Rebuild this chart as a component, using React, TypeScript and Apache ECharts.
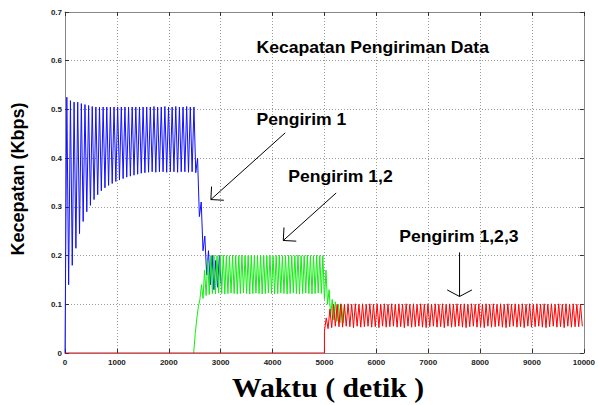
import { useEffect, useRef } from "react";
import * as echarts from "echarts";

// ---- axes ----
const timeMin = 0;
const timeMax = 10000;
const timeInterval = 1000;
const speedMin = 0;
const speedMax = 0.7;
const speedInterval = 0.1;

// ---- Pengirim 1 (blue) : sampled every 35 s from t = 0 ----
const blueStart = 0;
const blueStep = 35;
const blueSpeed = [
  0, 0.525, 0.14, 0.518, 0.18, 0.515, 0.215, 0.515, 0.245, 0.512,
  0.27, 0.51, 0.29, 0.508, 0.303, 0.506, 0.315, 0.505, 0.325, 0.505,
  0.333, 0.505, 0.339, 0.505, 0.344, 0.505, 0.348, 0.505, 0.352, 0.505,
  0.355, 0.505, 0.358, 0.505, 0.361, 0.505, 0.363, 0.505, 0.365, 0.505,
  0.367, 0.505, 0.369, 0.505, 0.37, 0.505, 0.371, 0.505, 0.372, 0.506,
  0.371, 0.505, 0.372, 0.505, 0.372, 0.506, 0.371, 0.505, 0.372, 0.505,
  0.372, 0.506, 0.371, 0.505, 0.372, 0.505, 0.372, 0.506, 0.371, 0.505,
  0.372, 0.505, 0.37, 0.4, 0.28, 0.31, 0.21, 0.24, 0.16, 0.21,
  0.14, 0.2, 0.13, 0.19, 0.135, 0.2, 0.14,
];

// ---- Pengirim 2 (green) : sampled every 30 s from t = 2480 ----
const greenStart = 2480;
const greenStep = 30;
const greenSpeed = [
  0, 0.04, 0.07, 0.095, 0.11, 0.14, 0.112, 0.17, 0.118, 0.19,
  0.12, 0.2, 0.122, 0.201, 0.121, 0.2, 0.123, 0.2, 0.122, 0.201,
  0.121, 0.2, 0.122, 0.2, 0.123, 0.201, 0.122, 0.2, 0.121, 0.2,
  0.122, 0.201, 0.123, 0.2, 0.122, 0.2, 0.121, 0.201, 0.122, 0.2,
  0.123, 0.2, 0.122, 0.201, 0.121, 0.2, 0.122, 0.2, 0.123, 0.201,
  0.122, 0.2, 0.121, 0.2, 0.122, 0.201, 0.123, 0.2, 0.122, 0.2,
  0.121, 0.201, 0.122, 0.2, 0.123, 0.2, 0.122, 0.201, 0.121, 0.2,
  0.122, 0.2, 0.123, 0.201, 0.122, 0.2, 0.121, 0.2, 0.122, 0.201,
  0.123, 0.2, 0.122, 0.2, 0.11, 0.17, 0.1, 0.13, 0.075, 0.11,
  0.068, 0.105, 0.065, 0.1, 0.062, 0.1, 0.062, 0.098,
];

// ---- Pengirim 3 (red) : idle, then sampled every 35 s from t = 5000 ----
const redIdleTime = [0, 5000];
const redIdleSpeed = [0, 0];
const redStart = 5000;
const redStep = 35;
const redSpeed = [
  0.045, 0.072, 0.05, 0.09, 0.052, 0.1, 0.055, 0.1, 0.054, 0.101,
  0.053, 0.1, 0.055, 0.101, 0.054, 0.1, 0.052, 0.101, 0.055, 0.1,
  0.053, 0.101, 0.054, 0.1, 0.055, 0.101, 0.053, 0.1, 0.054, 0.101,
  0.052, 0.1, 0.055, 0.101, 0.053, 0.1, 0.054, 0.101, 0.055, 0.1,
  0.053, 0.101, 0.054, 0.1, 0.052, 0.101, 0.055, 0.1, 0.053, 0.101,
  0.054, 0.1, 0.055, 0.101, 0.053, 0.1, 0.052, 0.101, 0.054, 0.1,
  0.055, 0.101, 0.053, 0.1, 0.054, 0.101, 0.052, 0.1, 0.055, 0.101,
  0.053, 0.1, 0.054, 0.101, 0.055, 0.1, 0.053, 0.101, 0.052, 0.1,
  0.054, 0.101, 0.055, 0.1, 0.053, 0.101, 0.054, 0.1, 0.052, 0.101,
  0.055, 0.1, 0.053, 0.101, 0.054, 0.1, 0.055, 0.101, 0.053, 0.1,
  0.052, 0.101, 0.054, 0.1, 0.055, 0.101, 0.053, 0.1, 0.054, 0.101,
  0.052, 0.1, 0.055, 0.101, 0.053, 0.1, 0.054, 0.101, 0.055, 0.1,
  0.053, 0.101, 0.052, 0.1, 0.054, 0.101, 0.055, 0.1, 0.053, 0.101,
  0.054, 0.1, 0.052, 0.101, 0.055, 0.1, 0.053, 0.101, 0.054, 0.1,
  0.054, 0.1, 0.055,
];

// ---- texts & annotations (data coordinates) ----
const titleText = "Kecapatan Pengiriman Data";
const yAxisTitle = "Kecepatan (Kbps)";
const xAxisTitle = "Waktu ( detik )";
const noteLabels = ["Pengirim 1", "Pengirim 1,2", "Pengirim 1,2,3"];
const noteLabelTime = [3690, 4302, 6444];
const noteLabelSpeed = [0.479, 0.362, 0.239];
const titleTime = 3690;
const titleSpeed = 0.627;
const arrowTailTime = [4245, 5226, 7604];
const arrowTailSpeed = [0.452, 0.3285, 0.2065];
const arrowTipTime = [2811, 4207, 7604];
const arrowTipSpeed = [0.315, 0.231, 0.116];
const arrowHeadAngleDeg = [45, 45, 62];
const arrowHeadLen = [13, 13, 14];

const sampled = (start: number, step: number, vals: number[]) =>
  vals.map((v, i) => [start + i * step, v]);

export default function App() {
  const ref = useRef<HTMLDivElement>(null);
  useEffect(() => {
    if (!ref.current) return;
    const chart = echarts.init(ref.current, null, { renderer: "svg" });
    const labelFont = "Arial, 'Liberation Sans', sans-serif";
    const commonX = {
      type: "value" as const,
      min: timeMin,
      max: timeMax,
      interval: timeInterval,
    };
    const commonY = {
      type: "value" as const,
      min: speedMin,
      max: speedMax,
      interval: speedInterval,
    };
    const boxLine = { show: true, onZero: false, lineStyle: { color: "#888", width: 1 } };
    const tick = { show: true, inside: true, length: 4, lineStyle: { color: "#333" } };
    const grid = { show: true, lineStyle: { color: "#9a9a9a", type: [1, 2], width: 1 } };
    chart.setOption({
      animation: false,
      backgroundColor: "#ffffff",
      grid: { left: 65, right: 10, top: 12, bottom: 52 },
      xAxis: [
        {
          ...commonX,
          position: "bottom",
          axisLine: boxLine,
          axisTick: tick,
          axisLabel: {
            show: true,
            fontSize: 8,
            fontWeight: "bold",
            color: "#222",
            fontFamily: labelFont,
            margin: 5,
            formatter: (v: number) => String(v),
          },
          splitLine: grid,
        },
        {
          ...commonX,
          position: "top",
          axisLine: boxLine,
          axisTick: tick,
          axisLabel: { show: false },
          splitLine: { show: false },
        },
      ],
      yAxis: [
        {
          ...commonY,
          position: "left",
          axisLine: boxLine,
          axisTick: tick,
          axisLabel: {
            show: true,
            fontSize: 8,
            fontWeight: "bold",
            color: "#222",
            fontFamily: labelFont,
            margin: 3,
            formatter: (v: number) => (v === 0 ? "0" : v.toFixed(1)),
          },
          splitLine: grid,
        },
        {
          ...commonY,
          position: "right",
          axisLine: boxLine,
          axisTick: tick,
          axisLabel: { show: false },
          splitLine: { show: false },
        },
      ],
      series: [
        {
          name: "Pengirim 1",
          type: "line",
          xAxisIndex: 0,
          yAxisIndex: 0,
          data: sampled(blueStart, blueStep, blueSpeed),
          showSymbol: false,
          silent: true,
          lineStyle: { color: "#1010ff", width: 1 },
        },
        {
          name: "Pengirim 2",
          type: "line",
          xAxisIndex: 0,
          yAxisIndex: 0,
          data: sampled(greenStart, greenStep, greenSpeed),
          showSymbol: false,
          silent: true,
          lineStyle: { color: "#11ee11", width: 1 },
        },
        {
          name: "Pengirim 3",
          type: "line",
          xAxisIndex: 0,
          yAxisIndex: 0,
          data: [
            ...redIdleTime.map((t, i) => [t, redIdleSpeed[i]]),
            ...sampled(redStart, redStep, redSpeed),
          ],
          showSymbol: false,
          silent: true,
          lineStyle: { color: "#ff0000", width: 1 },
        },
      ],
    });

    const px = (t: number, s: number) =>
      chart.convertToPixel({ xAxisIndex: 0, yAxisIndex: 0 }, [t, s]) as number[];

    const textStyle = (text: string, size: number, family: string) => ({
      text,
      fontSize: size,
      fontWeight: "bold",
      fontFamily: family,
      fill: "#000",
      align: "left",
      textAlign: "left",
      verticalAlign: "middle",
      textVerticalAlign: "middle",
    });

    const elements: any[] = [];
    const tp = px(titleTime, titleSpeed);
    elements.push({
      type: "text",
      x: tp[0],
      y: tp[1],
      scaleX: 1.1,
      style: textStyle(titleText, 16, labelFont),
    });
    noteLabels.forEach((lbl, i) => {
      const p = px(noteLabelTime[i], noteLabelSpeed[i]);
      elements.push({
        type: "text",
        x: p[0],
        y: p[1],
        scaleX: 1.1,
        style: textStyle(lbl, 16, labelFont),
      });
    });
    arrowTipTime.forEach((_, i) => {
      const tail = px(arrowTailTime[i], arrowTailSpeed[i]);
      const tip = px(arrowTipTime[i], arrowTipSpeed[i]);
      const dx = tail[0] - tip[0];
      const dy = tail[1] - tip[1];
      const len = Math.hypot(dx, dy) || 1;
      const ux = dx / len;
      const uy = dy / len;
      const a = (arrowHeadAngleDeg[i] * Math.PI) / 180;
      const L = arrowHeadLen[i];
      const rot = (ang: number) => [
        tip[0] + L * (ux * Math.cos(ang) - uy * Math.sin(ang)),
        tip[1] + L * (ux * Math.sin(ang) + uy * Math.cos(ang)),
      ];
      elements.push({
        type: "polyline",
        shape: { points: [tail, tip] },
        style: { stroke: "#000", lineWidth: 1, fill: null },
      });
      elements.push({
        type: "polyline",
        shape: { points: [rot(a), tip, rot(-a)] },
        style: { stroke: "#000", lineWidth: 1, fill: null },
      });
    });
    elements.push({
      type: "text",
      x: 18,
      y: 179,
      rotation: Math.PI / 2,
      style: {
        ...textStyle(yAxisTitle, 18, labelFont),
        align: "center",
        textAlign: "center",
      },
    });
    elements.push({
      type: "text",
      x: 328,
      y: 388,
      scaleX: 1.1,
      style: {
        ...textStyle(xAxisTitle, 27, "'Times New Roman', 'Liberation Serif', serif"),
        align: "center",
        textAlign: "center",
      },
    });
    chart.setOption({ graphic: { elements } });

    return () => chart.dispose();
  }, []);

  return (
    <div
      ref={ref}
      style={{ position: "fixed", left: 0, top: 0, width: 598, height: 405, background: "#fff" }}
    />
  );
}
